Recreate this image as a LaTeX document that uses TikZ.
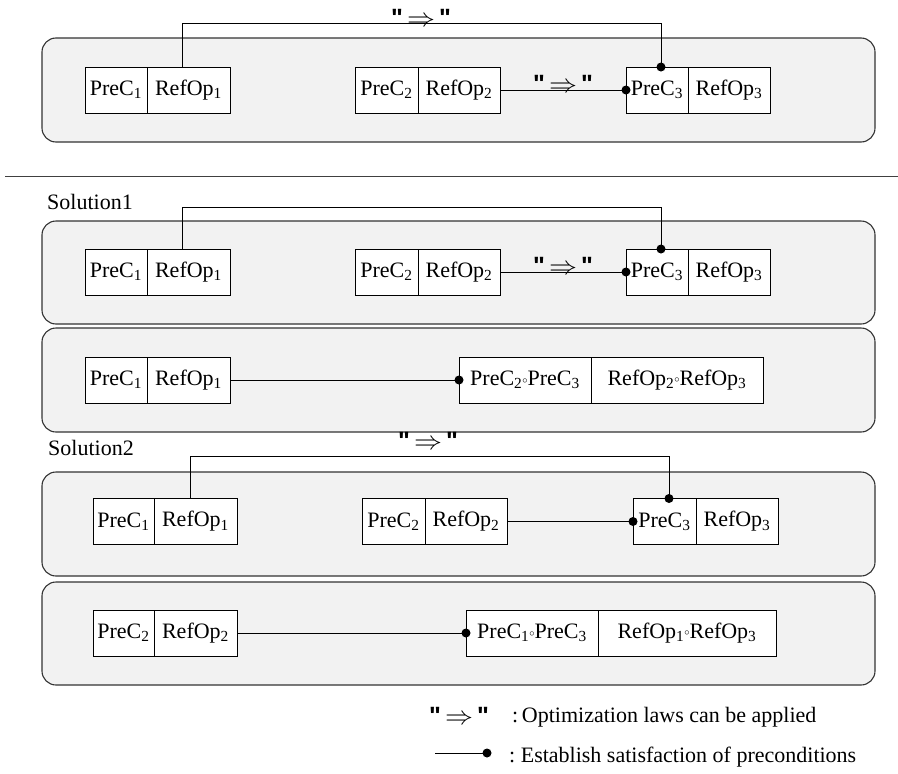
\documentclass[tikz,border=0pt]{standalone}
\usepackage{fontspec}
\usepackage{graphicx}
\setmainfont{Liberation Serif}
\newfontfamily\quotefont{Liberation Sans}
\usetikzlibrary{calc}

\definecolor{panelfill}{HTML}{F2F2F2}
\definecolor{panelline}{HTML}{333333}

% "=>" mark: optimization law applicable
\newcommand\dq{{\quotefont\fontsize{25}{28}\selectfont\bfseries"}}
\newcommand\lawsign{\dq\hspace{4pt}\scalebox{1.35}[1.25]{$\Rightarrow$}\hspace{4pt}\dq}
% composition circle
\newcommand\compo{\raisebox{2.6pt}{\scalebox{0.5}{$\circ$}}}
\newcommand\pcond[1]{PreC\textsubscript{#1}}
\newcommand\rop[1]{RefOp\textsubscript{#1}}

% a two-cell box: #1 name prefix, (#2,#3) west point, #4/#5 cell widths, #6/#7 texts
\newcommand\pairbox[7]{%
  \node[cell, minimum width=#4, anchor=west] (#1a) at (#2,#3) {#6};
  \node[cell, minimum width=#5, anchor=west] (#1b) at (#1a.east) {#7};}

\begin{document}
\begin{tikzpicture}[x=1pt, y=-1pt,
  font=\fontsize{22}{26}\selectfont,
  panel/.style={draw=panelline, fill=panelfill, line width=1.1pt, rounded corners=14pt},
  cell/.style={draw, fill=white, line width=0.9pt, inner sep=0pt, outer sep=0pt, minimum height=46pt},
  link/.style={line width=1pt},
  law/.style={inner sep=0pt, anchor=base},
  dot/.style={fill=black}]

\useasboundingbox (0,0) rectangle (898,774);

% ---------- original situation ----------
\draw[panel] (42,38) rectangle (875,142);
\pairbox{p1x}{85}{90}{62}{83}{\pcond1}{\rop1}
\pairbox{p1y}{355}{90}{63}{82}{\pcond2}{\rop2}
\pairbox{p1z}{626}{90}{62}{82}{\pcond3}{\rop3}
\draw[link] ([xshift=-6.5pt]p1xb.north) -- ++(0,-44) -| ([xshift=4pt]p1za.north);
\fill[dot] ([xshift=4pt]p1za.north) circle[radius=4.5pt];
\node[law] (p1lawtop) at (421,26) {\lawsign};
\draw[link] (p1yb.east) -- node[law, yshift=-2.5pt] (p1lawmid) {\lawsign} (p1za.west);
\fill[dot] (p1za.west) circle[radius=4.5pt];

\draw[line width=0.9pt, black!75] (5,176) -- (898,176);

% ---------- Solution1 ----------
\node[anchor=base west, inner sep=0pt] (sol1) at (47,209) {Solution1};
\draw[panel] (42,221) rectangle (875,324);
\pairbox{p2x}{85}{272}{62}{83}{\pcond1}{\rop1}
\pairbox{p2y}{355}{272}{63}{82}{\pcond2}{\rop2}
\pairbox{p2z}{626}{272}{62}{82}{\pcond3}{\rop3}
\draw[link] ([xshift=-6.5pt]p2xb.north) -- ++(0,-42) -| ([xshift=4pt]p2za.north);
\fill[dot] ([xshift=4pt]p2za.north) circle[radius=4.5pt];
\draw[link] (p2yb.east) -- node[law, yshift=-2.5pt] (p2lawmid) {\lawsign} (p2za.west);
\fill[dot] (p2za.west) circle[radius=4.5pt];

\draw[panel] (42,328) rectangle (875,432);
\pairbox{p3x}{85}{380}{62}{83}{\pcond1}{\rop1}
\pairbox{p3m}{459}{380}{132}{172}{\pcond2\compo\pcond3}{\rop2\compo\rop3}
\draw[link] (p3xb.east) -- (p3ma.west);
\fill[dot] (p3ma.west) circle[radius=4.5pt];

% ---------- Solution2 ----------
\node[anchor=base west, inner sep=0pt] (sol2) at (48,455) {Solution2};
\draw[panel] (42,472) rectangle (875,576);
\pairbox{p4x}{93}{521.5}{61}{83}{\pcond1}{\rop1}
\pairbox{p4y}{362}{521.5}{63}{82}{\pcond2}{\rop2}
\pairbox{p4z}{633}{521.5}{63}{82}{\pcond3}{\rop3}
\draw[link] ([xshift=-5.5pt]p4xb.north) -- ++(0,-42.5) -| ([xshift=4.5pt]p4za.north);
\fill[dot] ([xshift=4.5pt]p4za.north) circle[radius=4.5pt];
\node[law] (p4lawtop) at (428,449) {\lawsign};
\draw[link] (p4yb.east) -- (p4za.west);
\fill[dot] (p4za.west) circle[radius=4.5pt];

\draw[panel] (42,582) rectangle (875,685);
\pairbox{p5x}{93}{633}{61}{83}{\pcond2}{\rop2}
\pairbox{p5m}{466}{633}{132}{178}{\pcond1\compo\pcond3}{\rop1\compo\rop3}
\draw[link] (p5xb.east) -- (p5ma.west);
\fill[dot] (p5ma.west) circle[radius=4.5pt];

% ---------- legend ----------
\node[law] (leglaw) at (459,724) {\lawsign};
\node[anchor=base west, inner sep=0pt] (leglawtext) at (512,722) {:\,Optimization laws can be applied};
\coordinate (legstart) at (435,753);
\coordinate (legend) at (487,753);
\draw[link] (legstart) -- (legend);
\fill[dot] (legend) circle[radius=4.5pt];
\node[anchor=base west, inner sep=0pt] (legdottext) at (509,762) {:\ Establish satisfaction of preconditions};
\end{tikzpicture}
\end{document}
